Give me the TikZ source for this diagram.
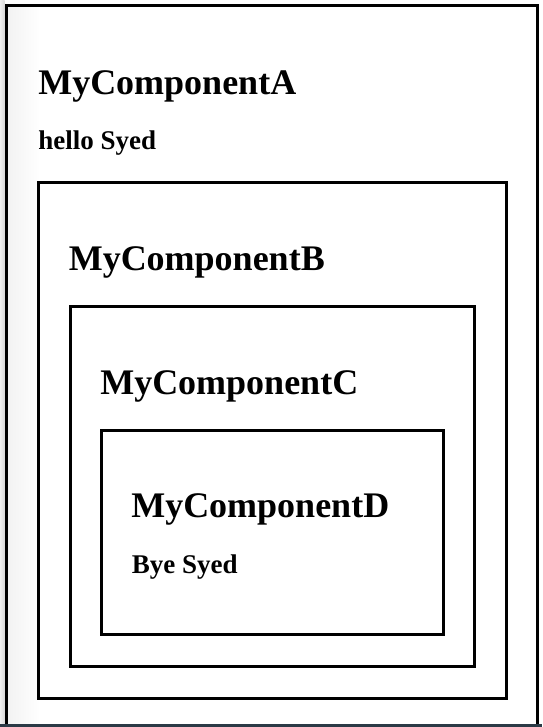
\documentclass[tikz,border=0pt]{standalone}
\usepackage{fontspec}
\setmainfont{Liberation Serif}
\definecolor{barcol}{HTML}{2B3A46}
\begin{document}
\begin{tikzpicture}[x=0.75pt,y=-0.75pt,
  frame/.style={draw=black,line width=2.25pt},
  hone/.style={anchor=base west,inner sep=0pt,font=\fontsize{27pt}{32pt}\selectfont\bfseries},
  htwo/.style={anchor=base west,inner sep=0pt,font=\fontsize{20.25pt}{24pt}\selectfont\bfseries}]
\useasboundingbox (0,0) rectangle (542,727);
\fill[white] (0,0) rectangle (542,727);
% left shadow and inner gradient
\shade[left color=gray!12,right color=gray!30] (0,0) rectangle (4.7,724);
\shade[left color=gray!10,right color=white] (7,7) rectangle (40,724);
% bottom bar
\fill[barcol] (0,723.5) rectangle (542,727);
% outer frame A (no bottom edge)
\draw[frame] (6,723.5) -- (6,5.3) -- (537.3,5.3) -- (537.3,723.5);
\node[hone] (ta) at (38,95) {MyComponentA};
\node[htwo] (ha) at (38,150) {hello Syed};
% box B
\draw[frame] (38.5,183) rectangle (506.5,698);
\node[hone] (tb) at (68.5,270.5) {MyComponentB};
% box C
\draw[frame] (70,306.5) rectangle (474.5,666);
\node[hone] (tc) at (100,394) {MyComponentC};
% box D
\draw[frame] (101.5,430.5) rectangle (443.5,634.5);
\node[hone] (td) at (131,517.5) {MyComponentD};
\node[htwo] (hd) at (131.5,573) {Bye Syed};
\end{tikzpicture}
\end{document}
